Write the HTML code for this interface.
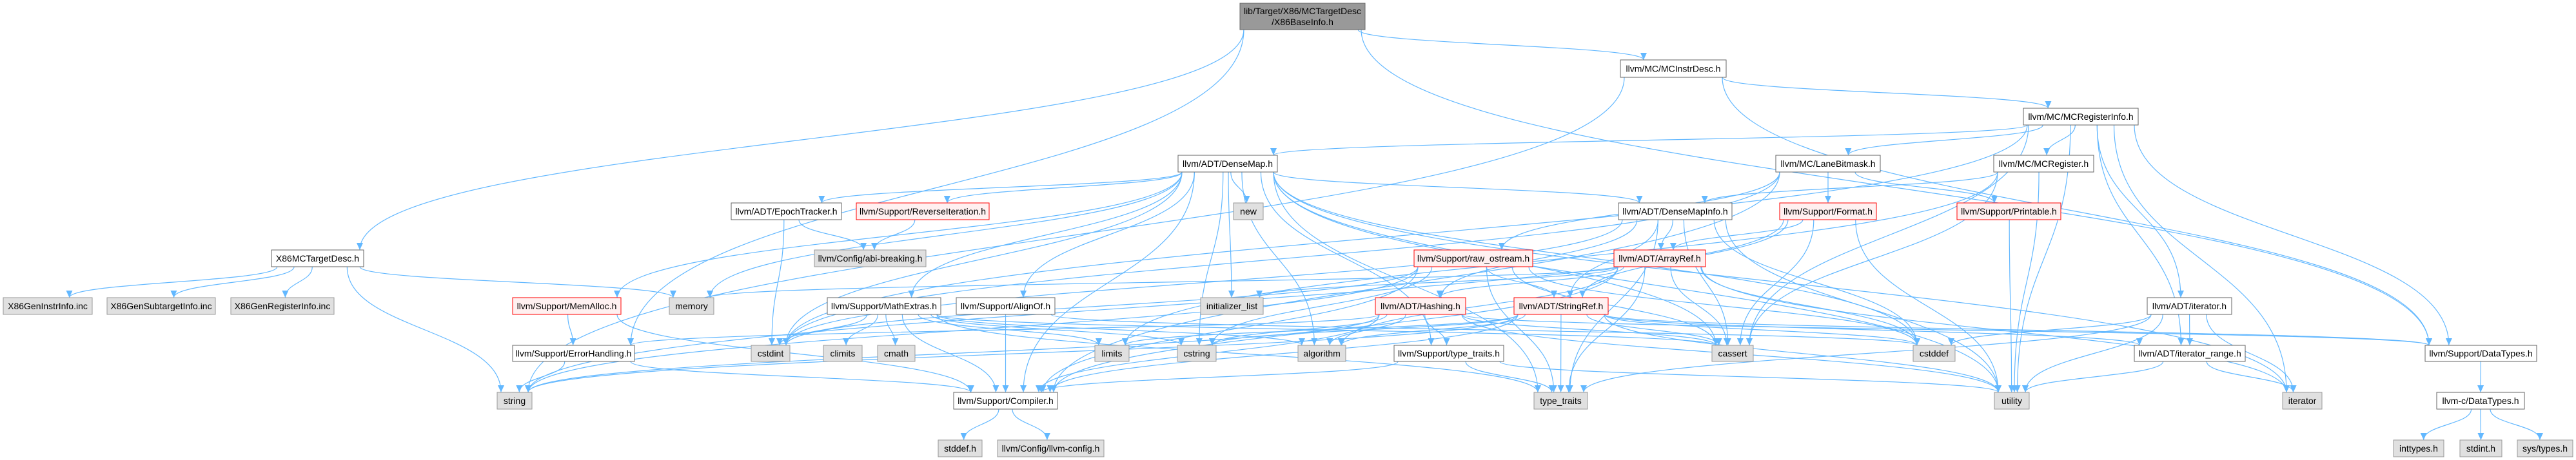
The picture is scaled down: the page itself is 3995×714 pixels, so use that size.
<!DOCTYPE html>
<html><head><meta charset="utf-8">
<style>
html,body{margin:0;padding:0;background:#fff;}
svg{display:block;}
text{font-family:"Liberation Sans",sans-serif;font-size:14px;fill:#000;}
.e{fill:none;stroke:#63b8ff;stroke-width:1.2;}
</style></head>
<body>
<svg id="g" width="3995" height="714" viewBox="0 0 3995 714" xmlns="http://www.w3.org/2000/svg">
<defs><marker id="a" markerUnits="userSpaceOnUse" markerWidth="12" markerHeight="10" refX="11" refY="5" orient="auto"><path d="M0,0 L11,5 L0,10 z" fill="#63b8ff"/></marker></defs>
<g id="edges"></g>
<g id="nodes">
<rect x="1923" y="5" width="194" height="41" fill="#999" stroke="#666"/>
<text x="2020" y="22" text-anchor="middle">lib/Target/X86/MCTargetDesc</text>
<text x="2020" y="39" text-anchor="middle">/X86BaseInfo.h</text>
</g>
</svg>
<script>
var N={
BI:[1923,2117,5,46],
MCTD:[421,564,388,414,'X86MCTargetDesc.h','w'],
GenInstr:[5,143,462,488,'X86GenInstrInfo.inc','g'],
GenSub:[166,334,462,488,'X86GenSubtargetInfo.inc','g'],
GenReg:[358,518,462,488,'X86GenRegisterInfo.inc','g'],
MemAlloc:[795,963,462,488,'llvm/Support/MemAlloc.h','r'],
ErrH:[795,984,536,561,'llvm/Support/ErrorHandling.h','w'],
string:[771,825,609,635,'string','g'],
MCInstrDesc:[2513,2677,93,120,'llvm/MC/MCInstrDesc.h','w'],
MCRegInfo:[3138,3316,168,194,'llvm/MC/MCRegisterInfo.h','w'],
DenseMap:[1827,1981,241,267,'llvm/ADT/DenseMap.h','w'],
LaneBitmask:[2754,2916,241,267,'llvm/MC/LaneBitmask.h','w'],
MCRegister:[3092,3247,241,267,'llvm/MC/MCRegister.h','w'],
EpochTracker:[1134,1305,315,341,'llvm/ADT/EpochTracker.h','w'],
RevIter:[1328,1534,315,341,'llvm/Support/ReverseIteration.h','r'],
new:[1913,1959,315,341,'new','g'],
DenseMapInfo:[2510,2686,315,341,'llvm/ADT/DenseMapInfo.h','w'],
Format:[2760,2910,315,341,'llvm/Support/Format.h','r'],
Printable:[3035,3196,315,341,'llvm/Support/Printable.h','r'],
abi:[1263,1436,388,414,'llvm/Config/abi-breaking.h','g'],
raw:[2193,2377,388,414,'llvm/Support/raw_ostream.h','r'],
ArrayRef:[2503,2645,388,414,'llvm/ADT/ArrayRef.h','r'],
memory:[1038,1107,462,488,'memory','g'],
MathExtras:[1283,1459,462,488,'llvm/Support/MathExtras.h','w'],
AlignOf:[1483,1636,462,488,'llvm/Support/AlignOf.h','w'],
init:[1862,1959,462,488,'initializer_list','g'],
Hashing:[2133,2273,462,488,'llvm/ADT/Hashing.h','r'],
StringRef:[2348,2494,462,488,'llvm/ADT/StringRef.h','r'],
iterh:[3330,3461,462,488,'llvm/ADT/iterator.h','w'],
cstdint:[1165,1225,536,561,'cstdint','g'],
climits:[1277,1337,536,561,'climits','g'],
cmath:[1361,1419,536,561,'cmath','g'],
limits:[1698,1751,536,561,'limits','g'],
cstring:[1826,1886,536,561,'cstring','g'],
algorithm:[2013,2087,536,561,'algorithm','g'],
tth:[2162,2332,536,561,'llvm/Support/type_traits.h','w'],
cassert:[2655,2719,536,561,'cassert','g'],
cstddef:[2967,3032,536,561,'cstddef','g'],
iterr:[3310,3482,536,561,'llvm/ADT/iterator_range.h','w'],
DataTypes:[3761,3934,536,561,'llvm/Support/DataTypes.h','w'],
Compiler:[1479,1640,609,635,'llvm/Support/Compiler.h','w'],
tt:[2379,2462,609,635,'type_traits','g'],
utility:[3093,3147,609,635,'utility','g'],
iterator:[3540,3601,609,635,'iterator','g'],
cDT:[3779,3915,609,635,'llvm-c/DataTypes.h','w'],
stddef:[1455,1523,683,709,'stddef.h','g'],
llvmconfig:[1547,1712,683,709,'llvm/Config/llvm-config.h','g'],
inttypes:[3712,3790,683,709,'inttypes.h','g'],
stdint:[3815,3880,683,709,'stdint.h','g'],
systypes:[3904,3990,683,709,'sys/types.h','g']
};
var E={
BI:'MCTD ErrH MCInstrDesc DataTypes',
MCTD:'GenInstr GenSub GenReg memory string',
MemAlloc:'ErrH Compiler',
ErrH:'string Compiler',
MCInstrDesc:'MCRegInfo DataTypes string',
MCRegInfo:'DenseMap LaneBitmask MCRegister iterh iterr DataTypes cassert cstdint iterator utility',
DenseMap:'EpochTracker RevIter new DenseMapInfo MathExtras AlignOf init MemAlloc Compiler cstring cstddef cassert algorithm tth tt utility iterator cstdint memory',
LaneBitmask:'Format Printable Compiler cstdint raw',
MCRegister:'DenseMapInfo cassert utility limits',
EpochTracker:'abi cstdint',
RevIter:'abi',
DenseMapInfo:'ArrayRef Hashing StringRef cassert cstddef cstdint tt utility',
Format:'ArrayRef StringRef cassert utility string',
Printable:'utility',
raw:'StringRef Compiler cassert cstddef cstdint cstring string tt',
ArrayRef:'Hashing Compiler algorithm cassert cstddef init iterator memory tt',
MathExtras:'cstdint climits cmath Compiler limits cstring cassert algorithm tt',
AlignOf:'Compiler cstddef',
Hashing:'ErrH Compiler DataTypes tth algorithm cassert cstring string utility',
StringRef:'iterr DataTypes Compiler algorithm cassert cstddef cstring limits string tt utility',
iterh:'iterr cstddef iterator tt utility',
iterr:'utility iterator',
tth:'tt utility Compiler',
DataTypes:'cDT',
cDT:'inttypes stdint systypes',
Compiler:'stddef llvmconfig'
};
var ns='http://www.w3.org/2000/svg';
var eg=document.getElementById('edges'),ng=document.getElementById('nodes');
function cl(v,a,b){return Math.max(a,Math.min(b,v));}
for(var s in E){E[s].split(' ').forEach(function(t){
 var A=N[s],B=N[t];var scx=(A[0]+A[1])/2,tcx=(B[0]+B[1])/2;
 var sx=cl(scx+(tcx-scx)*0.15,A[0]+6,A[1]-6),sy=A[3];
 var tx=cl(tcx+(scx-tcx)*0.08,B[0]+6,B[1]-6),ty=B[2];
 var d;
 if(ty-sy<30&&Math.abs(tcx-scx)>300){
  tx=(tcx>scx)?B[0]:B[1];ty=(B[2]+B[3])/2;
 }
 d=Math.max(20,(ty-sy)/2);
 var p=document.createElementNS(ns,'path');
 p.setAttribute('d','M'+sx+','+sy+' C'+sx+','+(sy+d)+' '+tx+','+(ty-d)+' '+tx+','+ty);
 p.setAttribute('class','e');p.setAttribute('marker-end','url(#a)');eg.appendChild(p);
});}
for(var k in N){var n=N[k];if(!n[4])continue;
 var r=document.createElementNS(ns,'rect');
 r.setAttribute('x',n[0]);r.setAttribute('y',n[2]);r.setAttribute('width',n[1]-n[0]);r.setAttribute('height',n[3]-n[2]);
 r.setAttribute('fill',n[5]=='g'?'#e0e0e0':n[5]=='r'?'#fff0f0':'#fff');
 r.setAttribute('stroke',n[5]=='g'?'#999':n[5]=='r'?'#f00':'#666');
 ng.appendChild(r);
 var t=document.createElementNS(ns,'text');
 t.setAttribute('x',(n[0]+n[1])/2);t.setAttribute('y',(n[2]+n[3])/2+5);t.setAttribute('text-anchor','middle');
 t.textContent=n[4];ng.appendChild(t);}
</script>
</body></html>
